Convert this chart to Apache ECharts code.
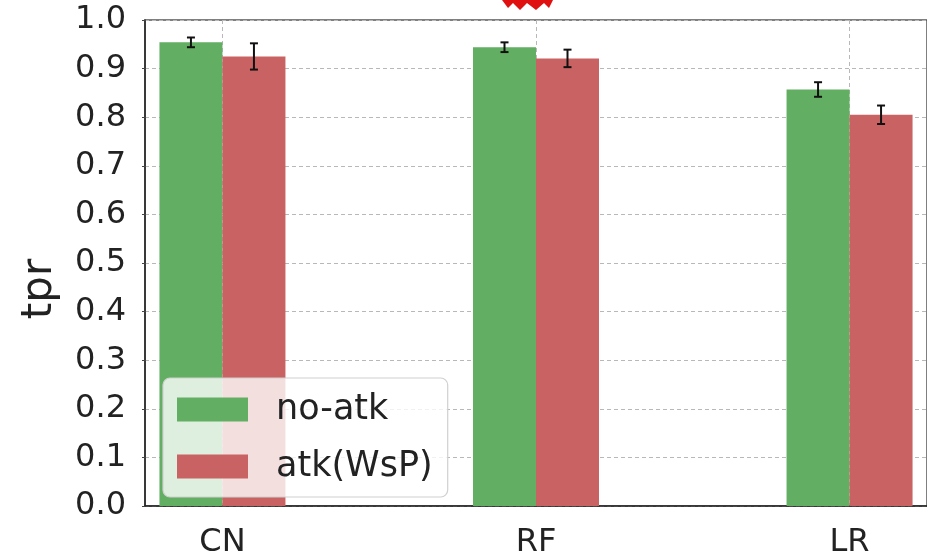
<!DOCTYPE html>
<html>
<head>
<meta charset="utf-8">
<script src="https://cdn.jsdelivr.net/npm/echarts@6/dist/echarts.min.js"></script>
<style>
  html, body { margin: 0; padding: 0; background: #fff; }
  #chart { width: 927px; height: 559px; }
</style>
</head>
<body>
<div id="chart"></div>
<script>
// Classifier true-positive rate with and without the WsP attack
const categories = ['CN', 'RF', 'LR'];
const categoryPos = [0, 1, 2];
const noAtk = [0.954, 0.944, 0.857];
const noAtkErr = [0.010, 0.010, 0.015];
const atkWsP = [0.925, 0.921, 0.805];
const atkWsPErr = [0.027, 0.018, 0.019];
const yTicks = [0.0, 0.1, 0.2, 0.3, 0.4, 0.5, 0.6, 0.7, 0.8, 0.9, 1.0];

const FONT = 'DejaVu Sans';
const GREEN = '#62ae62';
const RED = '#c96262';
const BAR_W = 63;

const chart = echarts.init(document.getElementById('chart'), null, { renderer: 'canvas' });

function barData(vals) {
  return vals.map((v, i) => [categoryPos[i], v]);
}
function errData(vals, errs) {
  return vals.map((v, i) => [categoryPos[i], v - errs[i], v + errs[i]]);
}

// Error whiskers centred on each bar (offset = half a bar to the left/right)
function errRenderer(shift) {
  return function (params, api) {
    const lo = api.coord([api.value(0), api.value(1)]);
    const hi = api.coord([api.value(0), api.value(2)]);
    const x = lo[0] + shift;
    const cap = 4;
    const style = { stroke: '#111', lineWidth: 2 };
    return {
      type: 'group',
      children: [
        { type: 'line', shape: { x1: x, y1: lo[1], x2: x, y2: hi[1] }, style },
        { type: 'line', shape: { x1: x - cap, y1: lo[1], x2: x + cap, y2: lo[1] }, style },
        { type: 'line', shape: { x1: x - cap, y1: hi[1], x2: x + cap, y2: hi[1] }, style }
      ]
    };
  };
}

const option = {
  animation: false,
  backgroundColor: '#fff',
  textStyle: { fontFamily: FONT },
  grid: {
    left: 145, top: 20, width: 789, height: 490,
    show: true, borderColor: '#555', borderWidth: 1.5, backgroundColor: 'transparent'
  },
  legend: {
    orient: 'vertical',
    left: 163, top: 378,
    icon: 'rect',
    itemWidth: 71, itemHeight: 24,
    itemGap: 22,
    padding: [14, 15, 13, 14],
    backgroundColor: 'rgba(255,255,255,0.8)',
    borderColor: '#d0d0d0', borderWidth: 1.2, borderRadius: 7,
    textStyle: { fontFamily: FONT, fontSize: 35, color: '#222', lineHeight: 30, padding: [0, 0, 0, 23] },
    data: ['no-atk', 'atk(WsP)']
  },
  xAxis: {
    type: 'value',
    min: -0.247, max: 2.247,
    axisLine: { show: true, onZero: false, lineStyle: { color: '#222', width: 1.5 } },
    axisTick: { show: false, customValues: categoryPos },
    axisLabel: {
      customValues: categoryPos,
      formatter: v => categories[Math.round(v)],
      fontFamily: FONT, fontSize: 32, color: '#222', margin: 21
    },
    splitLine: {
      show: true, customValues: categoryPos,
      lineStyle: { color: '#b8b8b8', type: [4, 3], width: 1 }
    }
  },
  yAxis: {
    type: 'value',
    min: 0, max: 1, interval: 0.1,
    name: 'tpr',
    nameLocation: 'middle',
    nameGap: 84,
    nameTextStyle: { fontFamily: FONT, fontSize: 42, color: '#222', padding: [0, 52, 0, 0] },
    axisLine: { show: true, onZero: false, lineStyle: { color: '#222', width: 1.5 } },
    axisTick: { show: true, length: 3, lineStyle: { color: '#444' } },
    axisLabel: {
      formatter: v => yTicks[Math.round(v * 10)].toFixed(1),
      fontFamily: FONT, fontSize: 32, color: '#222', margin: 19
    },
    splitLine: { show: true, lineStyle: { color: '#b8b8b8', type: [4, 3], width: 1 } }
  },
  series: [
    {
      name: 'no-atk', type: 'bar', data: barData(noAtk),
      barWidth: BAR_W, barGap: '0%',
      itemStyle: { color: GREEN }
    },
    {
      name: 'atk(WsP)', type: 'bar', data: barData(atkWsP),
      barWidth: BAR_W, barGap: '0%',
      itemStyle: { color: RED }
    },
    {
      type: 'custom', name: 'no-atk err', data: errData(noAtk, noAtkErr),
      renderItem: errRenderer(-BAR_W / 2), z: 5, silent: true
    },
    {
      type: 'custom', name: 'atk err', data: errData(atkWsP, atkWsPErr),
      renderItem: errRenderer(BAR_W / 2), z: 5, silent: true
    }
  ],
  graphic: [
    {
      // red jagged marker poking in at the top edge
      type: 'polygon',
      shape: {
        points: [[502, 0], [508, 8], [513, 3], [520, 10], [527, 3], [536, 10], [544, 3], [549, 8], [553, 0]]
      },
      style: { fill: '#e01010' }
    }
  ]
};

chart.setOption(option);
</script>
</body>
</html>
